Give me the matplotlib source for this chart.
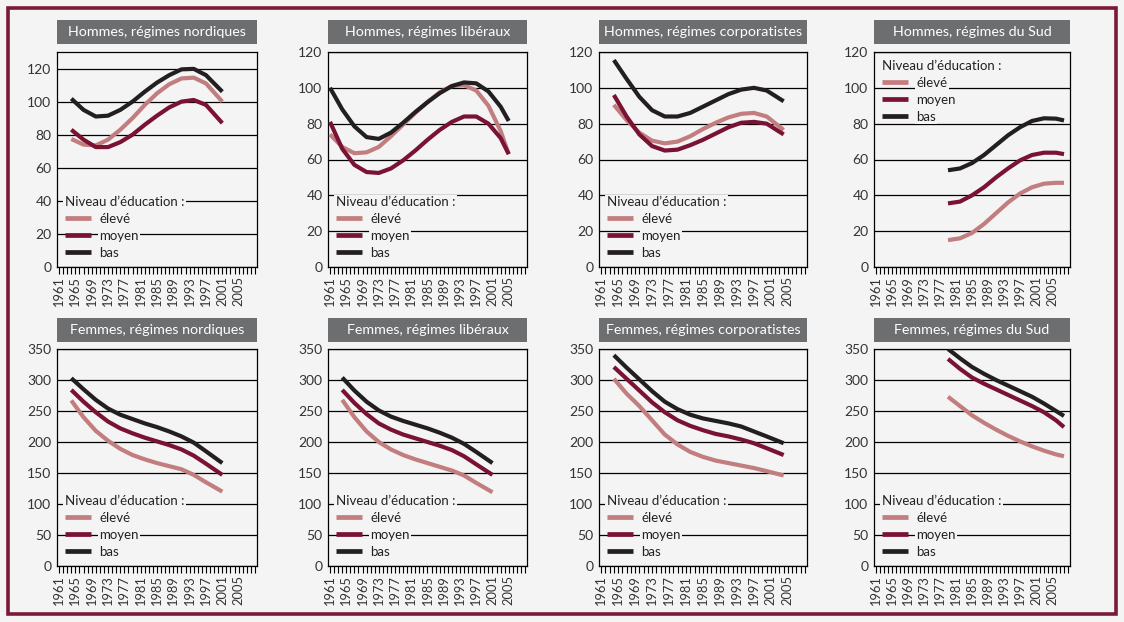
import matplotlib
matplotlib.use('Agg')
import matplotlib.pyplot as plt
from matplotlib.patches import Rectangle
from matplotlib.ticker import FixedLocator

plt.rcParams['font.family'] = ['Lato', 'DejaVu Sans']

# ---------------- data ----------------
series_labels = ['élevé', 'moyen', 'bas']
legend_title = "Niveau d’éducation :"
x_major = list(range(1961, 2006, 4))
x_minor = list(range(1961, 2010))

# Hommes, régimes nordiques
hn_years = [1964, 1967, 1970, 1973, 1976, 1979, 1982, 1985, 1988, 1991, 1994, 1997, 2001]
hn_eleve = [77.4, 74, 73.5, 77, 83, 90, 98, 105, 110.5, 114, 114.5, 111, 100]
hn_moyen = [83, 77, 72.5, 72.5, 75.5, 80, 86, 91.5, 96.5, 100, 101, 98, 87]
hn_bas = [101.8, 95, 91, 91.5, 95, 100, 106, 111.5, 116, 119.5, 119.8, 116, 106]

# Hommes, régimes libéraux
hl_years = [1961, 1964, 1967, 1970, 1973, 1976, 1979, 1982, 1985, 1988, 1991, 1994, 1997, 2000, 2003, 2005]
hl_eleve = [74, 67, 63.5, 64, 67, 73, 79.5, 86, 92, 97.5, 101, 101.5, 98.5, 90, 76, 63]
hl_moyen = [81, 66, 57, 53, 52.5, 55, 59.5, 65, 71, 76.5, 81, 84, 84, 80, 72, 63]
hl_bas = [100, 88, 78.5, 72.5, 71.5, 75, 80.5, 86.5, 92, 97, 101, 103, 102.5, 98, 89.5, 81.5]

# Hommes, régimes corporatistes
hc_years = [1964, 1967, 1970, 1973, 1976, 1979, 1982, 1985, 1988, 1991, 1994, 1997, 2000, 2004]
hc_eleve = [90.5, 82, 75, 70.5, 69, 70, 73, 77, 80.5, 83.5, 85.5, 86, 84, 76.5]
hc_moyen = [96, 84, 74, 67.5, 65, 65.5, 68, 71, 74.5, 78, 80.5, 81, 80, 74]
hc_bas = [115.5, 105, 95, 87.5, 84, 84, 86, 89.5, 93, 96.5, 99, 100, 98.5, 92.5]

# Hommes, régimes du Sud
hs_years = [1979, 1982, 1985, 1988, 1991, 1994, 1997, 2000, 2003, 2006, 2008]
hs_eleve = [15, 16, 19, 24, 30, 36, 41, 44.5, 46.5, 47, 47]
hs_moyen = [35.5, 36.5, 40, 44.5, 50, 55, 59.5, 62.5, 63.8, 63.8, 63]
hs_bas = [54, 55, 58, 62.5, 68, 73.5, 78, 81.5, 83, 82.8, 81.8]

# Femmes, régimes nordiques
fn_years = [1964, 1967, 1970, 1973, 1976, 1979, 1982, 1985, 1988, 1991, 1994, 1997, 2001]
fn_eleve = [267, 240, 218, 202, 189, 179, 172, 166, 161, 156, 147, 135, 120]
fn_moyen = [284, 265, 248, 233, 222, 214, 207, 201, 195, 188, 178, 165, 147]
fn_bas = [303, 285, 268, 254, 244, 237, 230, 224, 217, 209, 199, 185, 166]

# Femmes, régimes libéraux
fl_years = [1964, 1967, 1970, 1973, 1976, 1979, 1982, 1985, 1988, 1991, 1994, 1997, 2001]
fl_eleve = [268, 240, 217, 200, 188, 179, 172, 166, 160, 154, 146, 134, 119]
fl_moyen = [284, 263, 245, 230, 220, 212, 206, 200, 194, 187, 177, 164, 147]
fl_bas = [304, 283, 265, 251, 241, 234, 228, 222, 215, 207, 197, 184, 166]

# Femmes, régimes corporatistes
fc_years = [1964, 1967, 1970, 1973, 1976, 1979, 1982, 1985, 1988, 1991, 1994, 1997, 2000, 2004]
fc_eleve = [302, 278, 258, 235, 212, 196, 184, 176, 170, 166, 162, 158, 153, 146]
fc_moyen = [321, 302, 283, 264, 248, 235, 226, 219, 213, 209, 204, 198, 190, 179]
fc_bas = [340, 320, 301, 282, 265, 253, 244, 238, 234, 230, 225, 217, 209, 198]

# Femmes, régimes du Sud
fs_years = [1979, 1982, 1985, 1988, 1991, 1994, 1997, 2000, 2003, 2006, 2008]
fs_eleve = [273, 258, 243, 231, 220, 210, 201, 193, 186, 180, 177]
fs_moyen = [334, 318, 304, 294, 285, 276, 267, 258, 248, 235, 224]
fs_bas = [350, 335, 321, 310, 300, 291, 282, 273, 262, 250, 242]

titles = ['Hommes, régimes nordiques', 'Hommes, régimes libéraux',
          'Hommes, régimes corporatistes', 'Hommes, régimes du Sud',
          'Femmes, régimes nordiques', 'Femmes, régimes libéraux',
          'Femmes, régimes corporatistes', 'Femmes, régimes du Sud']

men_yticks = [0, 20, 40, 60, 80, 100, 120]
women_yticks = [0, 50, 100, 150, 200, 250, 300, 350]

# ---------------- style ----------------
W, H = 1124, 622
BG = '#f4f4f4'
C_ELEVE = '#c27d7e'
C_MOYEN = '#7a1233'
C_BAS = '#231f20'
C_BORDER = '#7b1a36'
C_TITLE = '#6d6e70'
colors = [C_ELEVE, C_MOYEN, C_BAS]

panels = [
    (hn_years, hn_eleve, hn_moyen, hn_bas),
    (hl_years, hl_eleve, hl_moyen, hl_bas),
    (hc_years, hc_eleve, hc_moyen, hc_bas),
    (hs_years, hs_eleve, hs_moyen, hs_bas),
    (fn_years, fn_eleve, fn_moyen, fn_bas),
    (fl_years, fl_eleve, fl_moyen, fl_bas),
    (fc_years, fc_eleve, fc_moyen, fc_bas),
    (fs_years, fs_eleve, fs_moyen, fs_bas),
]

cols = [(57, 257), (328, 527), (599, 807), (874, 1070)]
rows = [(52, 267), (349, 566)]
title_rows = [(20, 44), (318, 342)]

fig = plt.figure(figsize=(W / 100, H / 100), dpi=100, facecolor=BG)

border = Rectangle((8 / W, 1 - 614 / H), (1116 - 8) / W, (614 - 8) / H,
                   transform=fig.transFigure, fill=False,
                   edgecolor=C_BORDER, lw=2.6, zorder=0)
fig.patches.append(border)

for i, (yrs, e, m, b) in enumerate(panels):
    r, c = divmod(i, 4)
    x0, x1 = cols[c]
    y0, y1 = rows[r]
    ax = fig.add_axes([x0 / W, 1 - y1 / H, (x1 - x0) / W, (y1 - y0) / H])
    ax.set_facecolor(BG)
    for s in ax.spines.values():
        s.set_color('black')
        s.set_linewidth(0.9)
    for vals, col, lab in zip((e, m, b), colors, series_labels):
        ax.plot(yrs, vals, color=col, lw=3.0, solid_capstyle='butt',
                solid_joinstyle='round', label=lab, zorder=3)
    ax.set_xlim(1960.5, 2009.5)
    ax.xaxis.set_major_locator(FixedLocator(x_major))
    ax.xaxis.set_minor_locator(FixedLocator(x_minor))
    ax.set_xticklabels([str(v) for v in x_major], rotation=90, fontsize=9.3)
    ax.tick_params(axis='x', which='both', direction='out', length=5,
                   width=0.8, color='black', pad=1.5)
    if r == 0:
        ax.set_yticks(men_yticks)
        ax.set_ylim(0, 130 if c == 0 else 120)
    else:
        ax.set_yticks(women_yticks)
        ax.set_ylim(0, 350)
    ax.tick_params(axis='y', length=0, labelsize=10, pad=4, labelcolor='#333333')
    ax.tick_params(axis='x', labelcolor='#333333')
    ax.yaxis.grid(True, color='black', lw=0.9)
    ax.set_axisbelow(True)

    if r == 0 and c == 3:
        loc, anchor = 'upper left', (0.0, 1.0)
    else:
        loc, anchor = 'lower left', (0.0, 0.0)
    leg = ax.legend(title=legend_title, loc=loc, bbox_to_anchor=anchor,
                    frameon=False, fontsize=9.5, title_fontsize=9.5,
                    handlelength=2.0, handletextpad=0.6, labelspacing=0.38,
                    borderpad=0.35, borderaxespad=0.25, alignment='left')
    for h in leg.get_lines():
        h.set_linewidth(3.4)
    for t in leg.get_texts() + [leg.get_title()]:
        t.set_color('#222222')
        t.set_bbox(dict(facecolor=BG, edgecolor='none', pad=1.0))
    leg.set_zorder(6)

    ty0, ty1 = title_rows[r]
    fig.patches.append(Rectangle((x0 / W, 1 - ty1 / H), (x1 - x0) / W,
                                 (ty1 - ty0) / H, transform=fig.transFigure,
                                 facecolor=C_TITLE, edgecolor='none'))
    fig.text((x0 + x1) / 2 / W, 1 - (ty0 + ty1) / 2 / H, titles[i],
             color='white', fontsize=10.3, ha='center', va='center')

fig.savefig('out.png', dpi=100, facecolor=BG)
